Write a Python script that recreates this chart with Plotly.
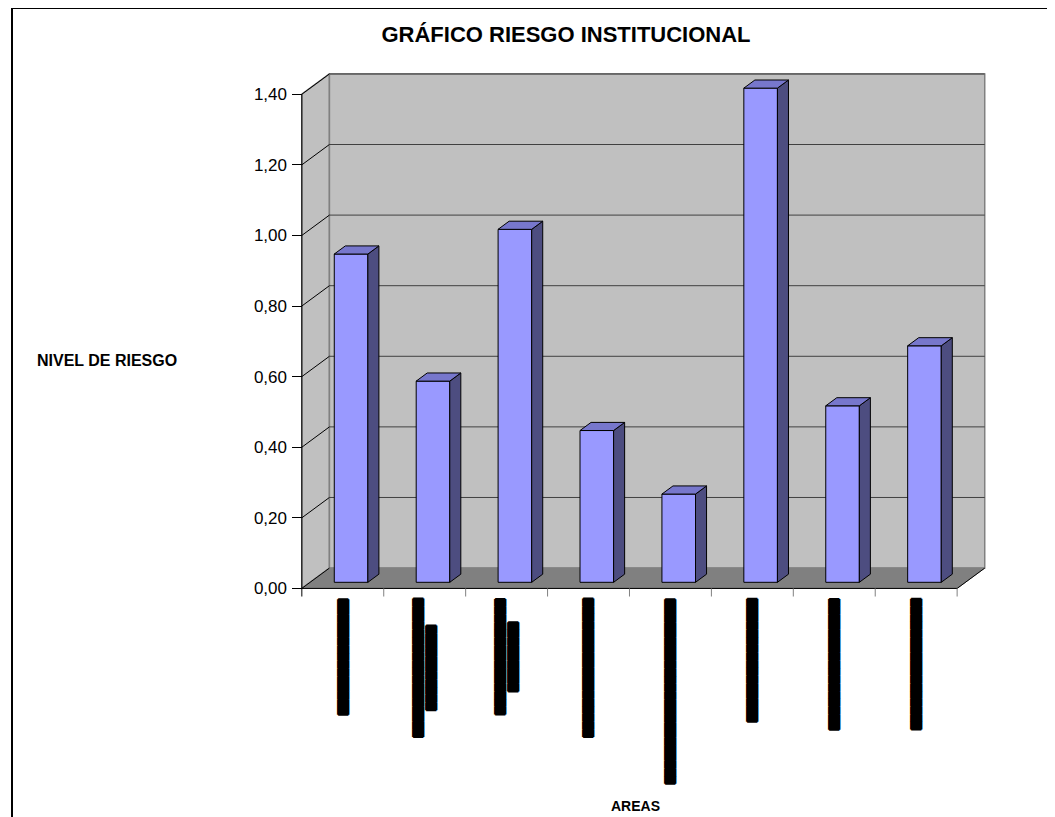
import plotly.graph_objects as go

# ---------------- data ----------------
values = [0.93, 0.57, 1.00, 0.43, 0.25, 1.40, 0.50, 0.67]
# category labels render in the reference as solid black (unreadable) strips
tick_labels = [
    "▇" * 15,
    "▇" * 18 + "<br>" + "▇" * 11,
    "▇" * 15 + "<br>" + "▇" * 9,
    "▇" * 18,
    "▇" * 24,
    "▇" * 16,
    "▇" * 17,
    "▇" * 17,
]
y_ticks = [0.0, 0.2, 0.4, 0.6, 0.8, 1.0, 1.2, 1.4]
title_text = "GRÁFICO RIESGO INSTITUCIONAL"
y_title = "NIVEL DE RIESGO"
x_title = "AREAS"

# ---------------- geometry / style ----------------
W, H = 1055, 817
OFF = 8                      # page offset of the figure (body margin)
ML, MR, MT, MB = 292 - OFF, 61 + OFF, 66 - OFF, 218 + OFF
XR = [-0.12, 8.45]
YR = [-0.03, 1.48]
DX, DY = 0.337, 0.0576      # 3D depth offset (data units)
FB, BB = 0.30, 0.70         # bar front/back depth fraction
BW = 0.41                   # bar width
N = len(values)
YMAX = y_ticks[-1]

WALL = "#C0C0C0"
WALL_EDGE = "#808080"
FLOOR = "#808080"
FRONT = "#9999FF"
SIDE = "#4D4D80"
TOP = "#7777CC"

fig = go.Figure()


def poly(xs, ys, fill, line_color, width=1):
    fig.add_trace(go.Scatter(x=xs, y=ys, mode="lines", fill="toself",
                             fillcolor=fill,
                             line=dict(color=line_color, width=width),
                             hoverinfo="skip", showlegend=False))


def lines(xs, ys, color, width=1):
    fig.add_trace(go.Scatter(x=xs, y=ys, mode="lines",
                             line=dict(color=color, width=width),
                             hoverinfo="skip", showlegend=False))


# walls
poly([0, DX, DX, 0, 0], [0, DY, YMAX + DY, YMAX, 0], WALL, WALL_EDGE, 1.5)
poly([DX, N + DX, N + DX, DX, DX], [DY, DY, YMAX + DY, YMAX + DY, DY],
     WALL, WALL_EDGE, 1.5)
# floor
poly([0, N, N + DX, DX, 0], [0, 0, DY, DY, 0], FLOOR, FLOOR, 1)
lines([N, N + DX], [0, DY], "black", 1)

# gridlines on back wall and diagonals on side wall
gx, gy, dxs, dys = [], [], [], []
for v in y_ticks[1:]:
    gx += [DX, N + DX, None]
    gy += [v + DY, v + DY, None]
for v in y_ticks:
    dxs += [0, DX, None]
    dys += [v, v + DY, None]
lines(gx, gy, "#404040", 1)
lines(dxs, dys, "black", 1)

# front axis line and category ticks
lines([0, 0], [-0.023, YMAX], "black", 1)
lines([0, N], [0, 0], "black", 1)
tx, ty = [], []
for k in range(1, N + 1):
    tx += [k, k, None]
    ty += [0, -0.023, None]
lines(tx, ty, "#808080", 1)

# bars
for i, v in enumerate(values):
    c = i + 0.5
    xlf = c - BW / 2 + FB * DX
    xrf = c + BW / 2 + FB * DX
    xlb = c - BW / 2 + BB * DX
    xrb = c + BW / 2 + BB * DX
    y0f, y0b = FB * DY, BB * DY
    poly([xlf, xrf, xrf, xlf, xlf], [y0f, y0f, v + y0f, v + y0f, y0f],
         FRONT, "black", 1)
    poly([xrf, xrb, xrb, xrf, xrf], [y0f, y0b, v + y0b, v + y0f, y0f],
         SIDE, "black", 1)
    poly([xlf, xrf, xrb, xlb, xlf], [v + y0f, v + y0f, v + y0b, v + y0b, v + y0f],
         TOP, "black", 1)

# category labels
for i, lab in enumerate(tick_labels):
    fig.add_annotation(x=i + 0.5, y=0, xref="x", yref="y", text=lab,
                       showarrow=False, textangle=-90, align="center",
                       yanchor="top", xanchor="center", yshift=-8,
                       font=dict(family="DejaVu Sans", size=10, color="black",
                                 shadow="1px 0px 0px black, -1px 0px 0px black, "
                                        "0px 1px 0px black, 0px -1px 0px black"))

pw = W - ML - MR
ph = H - MT - MB


def px2paper(px, py):
    # page pixel -> paper coords
    return (px - OFF - ML) / pw, (H - MB - (py - OFF)) / ph


ax_, ay_ = px2paper(107, 360)
fig.add_annotation(x=ax_, y=ay_, xref="paper", yref="paper", text=f"<b>{y_title}</b>",
                   showarrow=False, xanchor="center", yanchor="middle",
                   font=dict(family="Liberation Sans", size=16, color="black"))
bx_, by_ = px2paper(635, 806)
fig.add_annotation(x=bx_, y=by_, xref="paper", yref="paper", text=f"<b>{x_title}</b>",
                   showarrow=False, xanchor="center", yanchor="middle",
                   font=dict(family="Liberation Sans", size=14, color="black"))

# outer frame
fx0, fy0 = px2paper(12, 8)
fx1, fy1 = px2paper(1080, 840)
fig.add_shape(type="rect", xref="paper", yref="paper", x0=fx0, y0=fy1, x1=fx1, y1=fy0,
              line=dict(color="black", width=2), fillcolor="rgba(0,0,0,0)", layer="below")

fig.update_layout(
    width=W, height=H,
    margin=dict(l=ML, r=MR, t=MT, b=MB),
    paper_bgcolor="white", plot_bgcolor="white",
    separators=",.",
    showlegend=False,
    title=dict(text=f"<b>{title_text}</b>", x=(566 - OFF) / W, y=1 - (34 - OFF) / H,
               xanchor="center", yanchor="middle", xref="container", yref="container",
               font=dict(family="Liberation Sans", size=22, color="black")),
    xaxis=dict(range=XR, visible=False, fixedrange=True),
    yaxis=dict(range=YR, tickvals=y_ticks, tickformat=".2f",
               ticks="inside", ticklen=10, tickcolor="black", tickwidth=1,
               showgrid=False, zeroline=False, showline=False,
               ticklabelstandoff=4,
               tickfont=dict(family="Liberation Sans", size=17, color="black")),
)

fig.write_html("out.html")
